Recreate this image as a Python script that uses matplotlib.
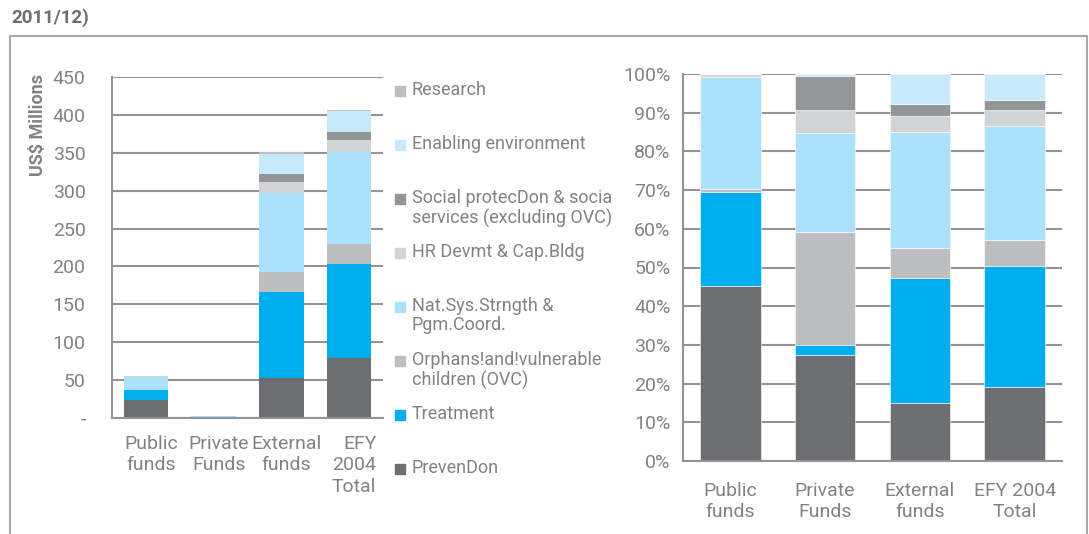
import numpy as np
import matplotlib.pyplot as plt
from matplotlib.patches import Rectangle
from matplotlib.transforms import ScaledTranslation

plt.rcParams['font.family'] = ['Roboto', 'DejaVu Sans']

# Data
sources = ['Public\nfunds', 'Private\nFunds', 'External\nfunds', 'EFY\n2004\nTotal']
sources_pct = ['Public\nfunds', 'Private\nFunds', 'External\nfunds', 'EFY 2004\nTotal']
categories = ['PrevenDon', 'Treatment', 'Orphans!and!vulnerable\nchildren (OVC)',
              'Nat.Sys.Strngth &\nPgm.Coord.', 'HR Devmt & Cap.Bldg',
              'Social protecDon & socia\nservices (excluding OVC)',
              'Enabling environment', 'Research']
colors = ['#6d6e71', '#00aeef', '#bcbec0', '#abe1fa', '#d1d3d4', '#939598',
          '#c7eafb', '#bcbec0']

# US$ millions, one list per category (Public, Private, External, EFY total)
prevention = [24.0, 0.8, 53.0, 79.4]
treatment = [13.2, 0.1, 113.0, 123.5]
ovc = [0.4, 0.9, 26.7, 26.9]
nat_sys = [16.3, 0.8, 103.7, 121.7]
hr_devmt = [1.0, 0.2, 15.4, 15.9]
social = [1.0, 0.3, 10.6, 10.6]
enabling = [0.0, 0.1, 26.5, 26.5]
research = [0.0, 0.0, 2.0, 2.1]
amounts = [prevention, treatment, ovc, nat_sys, hr_devmt, social, enabling, research]

# Share of each source (%)
prevention_pct = [45.3, 27.3, 14.9, 19.0]
treatment_pct = [24.3, 2.6, 32.5, 31.4]
ovc_pct = [0.6, 29.4, 7.7, 6.7]
nat_sys_pct = [28.9, 25.4, 30.0, 29.5]
hr_devmt_pct = [0.9, 6.0, 4.1, 4.1]
social_pct = [0.0, 8.9, 3.1, 2.6]
enabling_pct = [0.0, 0.4, 7.7, 6.7]
research_pct = [0.0, 0.0, 0.0, 0.0]
shares = [prevention_pct, treatment_pct, ovc_pct, nat_sys_pct, hr_devmt_pct,
          social_pct, enabling_pct, research_pct]

W, H = 1089, 534
grid_c = '#929497'
text_c = '#808285'

fig = plt.figure(figsize=(W / 100, H / 100), dpi=100)

# frame round the exhibit
fig.patches.append(Rectangle((10 / W, -0.05), 1077 / W, 1.05 - 36 / H,
                             transform=fig.transFigure, fill=False,
                             edgecolor='#a7a9ac', linewidth=1.5))
fig.text(11 / W, 1 - 18 / H, '2011/12)', fontsize=13.5, fontweight='bold',
         color='#6d6e71', va='center', ha='left')


def stack(ax, data, width, edge):
    x = np.arange(len(data[0]))
    bottom = np.zeros(len(x))
    for vals, c in zip(data, colors):
        ax.bar(x, vals, bottom=bottom, width=width, color=c,
               edgecolor='white', linewidth=edge, zorder=3)
        bottom += np.array(vals)
    return x


def style(ax):
    for s in ['top', 'right']:
        ax.spines[s].set_visible(False)
    for s in ['left', 'bottom']:
        ax.spines[s].set_color(grid_c)
        ax.spines[s].set_linewidth(1.5)
        ax.spines[s].set_zorder(4)
    ax.yaxis.grid(True, color=grid_c, linewidth=1.5, zorder=0)
    ax.set_axisbelow(True)
    ax.tick_params(length=0, labelsize=14, labelcolor=text_c)


# Left: absolute values
ax1 = fig.add_axes([112 / W, 1 - 418 / H, 271 / W, 341 / H])
x = stack(ax1, amounts, 0.66, 0)
style(ax1)
ax1.set_xlim(-0.5, 3.5)
ax1.set_ylim(0, 450)
ax1.set_yticks(np.arange(0, 451, 50))
ax1.set_yticklabels(['-'] + [str(v) for v in range(50, 451, 50)])
ax1.tick_params(axis='y', pad=19)
ax1.tick_params(axis='x', pad=12)
ax1.set_xticks(x)
ax1.set_xticklabels(sources, linespacing=1.25)
shift = ScaledTranslation(5 / 100, 0, fig.dpi_scale_trans)
for t in ax1.get_xticklabels():
    t.set_transform(t.get_transform() + shift)
ax1.get_xticklabels()[3].set_multialignment('right')
fig.text(38 / W, 1 - 125 / H, 'US$ Millions', rotation=90, fontsize=13,
         fontweight='bold', color='#808285', ha='center', va='center')

# Right: shares
ax2 = fig.add_axes([683 / W, 1 - 461 / H, 379 / W, 387 / H])
x = stack(ax2, shares, 0.64, 0.4)
style(ax2)
ax2.set_xlim(-0.5, 3.5)
ax2.set_ylim(0, 100)
ax2.set_yticks(np.arange(0, 101, 10))
ax2.set_yticklabels([f'{v}%' for v in range(0, 101, 10)])
ax2.tick_params(axis='y', pad=9)
ax2.tick_params(axis='x', pad=15)
ax2.set_xticks(x)
ax2.set_xticklabels(sources_pct, linespacing=1.25)

# legend, top entry first
for k, (lab, c) in enumerate(zip(categories[::-1], colors[::-1])):
    yc = 91 + 54 * k
    fig.patches.append(Rectangle((395 / W, 1 - (yc + 5) / H), 10 / W, 10 / H,
                                 transform=fig.transFigure, color=c))
    fig.text(412 / W, 1 - (yc - 10) / H, lab, fontsize=13, color=text_c,
             ha='left', va='top', linespacing=1.1)

fig.savefig('out.png', dpi=100)
